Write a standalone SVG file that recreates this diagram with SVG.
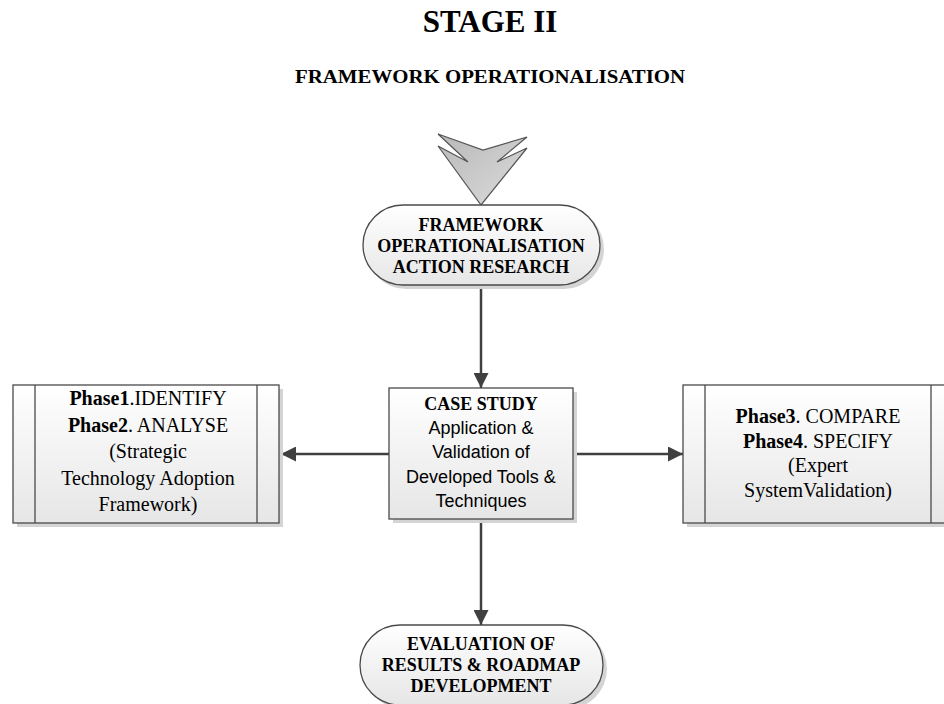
<svg xmlns="http://www.w3.org/2000/svg" width="944" height="704" viewBox="0 0 944 704">
<defs>
<linearGradient id="boxFill" x1="0" y1="0" x2="0" y2="1">
<stop offset="0" stop-color="#ffffff"/>
<stop offset="1" stop-color="#e6e6e6"/>
</linearGradient>
<linearGradient id="chevFill" x1="0" y1="0" x2="1" y2="1">
<stop offset="0" stop-color="#b8b8b8"/>
<stop offset="1" stop-color="#dcdcdc"/>
</linearGradient>
<marker id="arrow" viewBox="0 0 10 10" refX="10" refY="5" markerWidth="6" markerHeight="6" markerUnits="strokeWidth" orient="auto">
<path d="M0,0 L10,5 L0,10 z" fill="#404040"/>
</marker>
</defs>
<style>
.shape{fill:url(#boxFill);stroke:#4a4a4a;stroke-width:1.3}
.shadow{fill:#d4d4d4;stroke:none}
.div{stroke:#4a4a4a;stroke-width:1.3;fill:none}
.conn{stroke:#404040;stroke-width:2.5;fill:none;marker-end:url(#arrow)}
.tb{font-family:"Liberation Serif","Times New Roman",serif;font-weight:bold;fill:#000}
.tr{font-family:"Liberation Serif","Times New Roman",serif;font-weight:normal;fill:#000}
.ts{font-family:"Liberation Sans",Arial,sans-serif;fill:#000}
</style>
<rect width="944" height="704" fill="#ffffff"/>
<g id="title">
<text class="tb" x="490" y="32" font-size="31" text-anchor="middle">STAGE II</text>
<text class="tb" x="490" y="83" font-size="18" text-anchor="middle" textLength="390" lengthAdjust="spacingAndGlyphs">FRAMEWORK OPERATIONALISATION</text>
</g>
<g id="entry-chevron">
<path d="M438,134 L483,150 L527,137 L497,162 L527,148 L481,205 L438,146 L468,162 Z" fill="url(#chevFill)" stroke="#555" stroke-width="1.2" stroke-linejoin="miter"/>
</g>
<g id="connectors">
<path class="conn" d="M481,285 L481,388"/>
<path class="conn" d="M389,454 L281,454"/>
<path class="conn" d="M573,454 L683,454"/>
<path class="conn" d="M481,519 L481,625"/>
</g>
<g id="node-action-research">
<rect class="shadow" x="366" y="209" width="238" height="80" rx="40"/>
<rect class="shape" x="363" y="205" width="237" height="80" rx="40"/>
<text class="tb" font-size="18" text-anchor="middle"><tspan x="481" y="231">FRAMEWORK</tspan><tspan x="481" y="252">OPERATIONALISATION</tspan><tspan x="481" y="273">ACTION RESEARCH</tspan></text>
</g>
<g id="node-case-study">
<rect class="shadow" x="393" y="392" width="184" height="131"/>
<rect class="shape" x="389" y="388" width="184" height="131"/>
<text class="tb" x="481" y="410" font-size="18" text-anchor="middle">CASE STUDY</text>
<text class="ts" font-size="18" text-anchor="middle"><tspan x="481" y="434">Application &amp;</tspan><tspan x="481" y="458">Validation of</tspan><tspan x="481" y="483">Developed Tools &amp;</tspan><tspan x="481" y="507">Techniques</tspan></text>
</g>
<g id="node-phase12">
<rect class="shadow" x="17" y="389" width="266" height="138"/>
<rect class="shape" x="13" y="385" width="266" height="138"/>
<line class="div" x1="35" y1="385" x2="35" y2="523"/>
<line class="div" x1="257" y1="385" x2="257" y2="523"/>
<text class="tr" font-size="20" text-anchor="middle"><tspan x="148" y="405"><tspan class="tb">Phase1</tspan>.IDENTIFY</tspan><tspan x="148" y="432"><tspan class="tb">Phase2</tspan>. ANALYSE</tspan><tspan x="148" y="458">(Strategic</tspan><tspan x="148" y="485">Technology Adoption</tspan><tspan x="148" y="511">Framework)</tspan></text>
</g>
<g id="node-phase34">
<rect class="shadow" x="687" y="389" width="266" height="138"/>
<rect class="shape" x="683" y="385" width="270" height="138"/>
<line class="div" x1="705" y1="385" x2="705" y2="523"/>
<line class="div" x1="931" y1="385" x2="931" y2="523"/>
<text class="tr" font-size="20" text-anchor="middle"><tspan x="818" y="423"><tspan class="tb">Phase3</tspan>. COMPARE</tspan><tspan x="818" y="448"><tspan class="tb">Phase4</tspan>. SPECIFY</tspan><tspan x="818" y="472">(Expert</tspan><tspan x="818" y="497">SystemValidation)</tspan></text>
</g>
<g id="node-evaluation">
<rect class="shadow" x="364" y="629" width="243" height="80" rx="40"/>
<rect class="shape" x="360" y="625" width="243" height="80" rx="40"/>
<text class="tb" font-size="18" text-anchor="middle"><tspan x="481" y="650">EVALUATION OF</tspan><tspan x="481" y="671">RESULTS &amp; ROADMAP</tspan><tspan x="481" y="692">DEVELOPMENT</tspan></text>
</g>
</svg>
